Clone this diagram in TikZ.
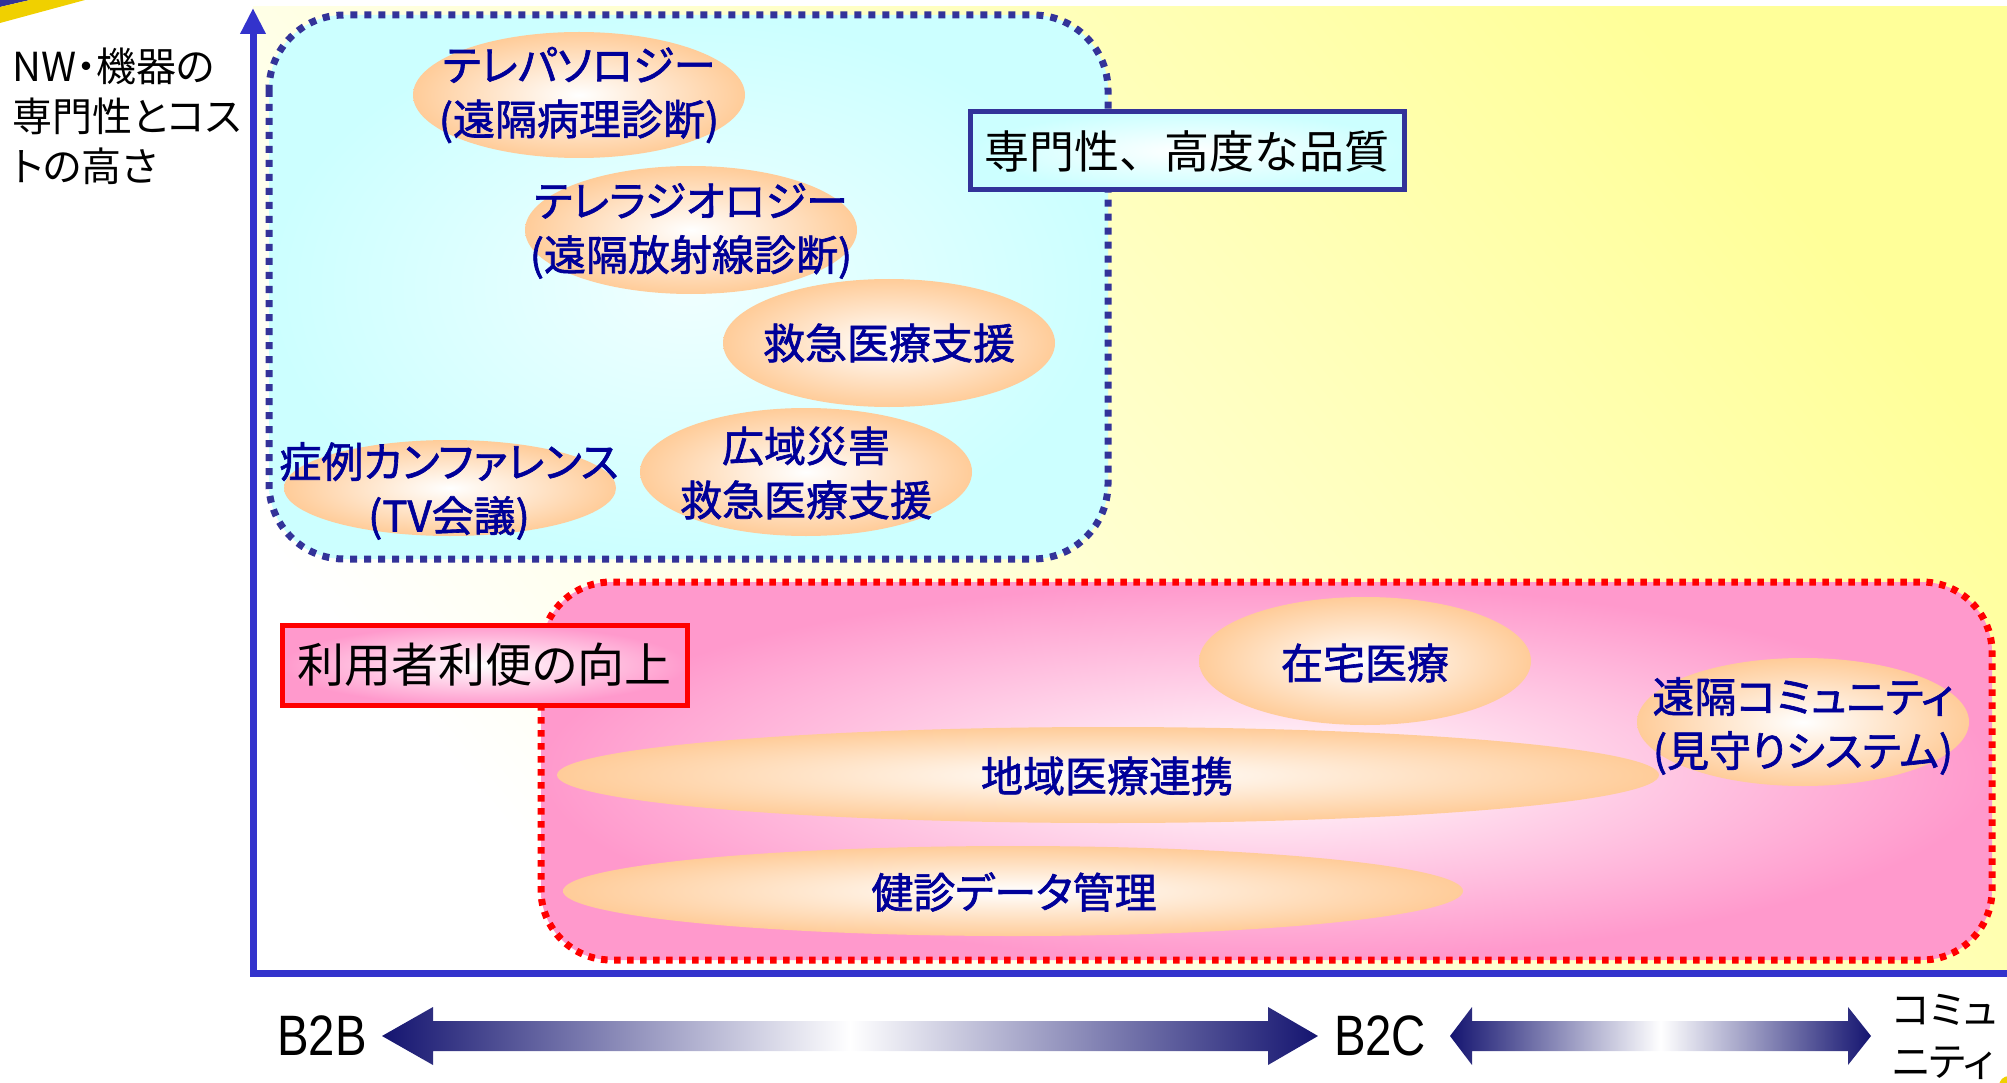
\documentclass[tikz,border=0pt]{standalone}
\usepackage{fontspec}
\setmainfont{Noto Sans CJK JP}[RawFeature=+palt]
\newfontfamily\jpblue{Noto Sans CJK JP}[RawFeature=+palt, FakeBold=1.5]
\newfontfamily\jpfull{Noto Sans CJK JP}
\newfontfamily\latnarrow{Liberation Sans}[FakeStretch=0.83]
\usetikzlibrary{arrows.meta}
\definecolor{axisblue}{RGB}{51,51,204}
\definecolor{boxnavy}{RGB}{51,51,153}
\definecolor{txtblue}{RGB}{0,0,153}
\definecolor{cyanbg}{RGB}{204,255,255}
\definecolor{cyanlt}{RGB}{240,255,255}
\definecolor{pinkbg}{RGB}{255,153,204}
\definecolor{orangebg}{RGB}{255,204,153}
\definecolor{ylw}{RGB}{255,255,153}
\definecolor{gold}{RGB}{240,208,0}
\definecolor{arrownavy}{RGB}{20,20,112}
\tikzset{
  ellbg/.style={inner color=white, outer color=orangebg},
  bluetxt/.style={text=txtblue, align=center, inner sep=0pt,
    font=\jpblue\fontsize{42pt}{54pt}\selectfont},
  blacktxt/.style={text=black, inner sep=0pt},
  arrowshade/.style={left color=arrownavy, right color=arrownavy, middle color=white},
  axisline/.style={axisblue, line width=7pt},
}
\begin{document}
\begin{tikzpicture}[x=1pt,y=-1pt]
\useasboundingbox (0,0) rectangle (2007,1083);
% background
\shade[top color=ylw, bottom color=white, shading angle=-50] (253,7) rectangle (2007,973);
% corner decorations
\fill[boxnavy] (0,0) -- (30,0) -- (0,7) -- cycle;
\fill[gold] (0,7) -- (30,0) -- (85,0) -- (0,23) -- cycle;
\fill[gold] (2009,1086) circle (10pt);
% regions
\path[draw=boxnavy, line width=7pt, dash pattern=on 7pt off 7pt, rounded corners=75pt,
  inner color=cyanlt, outer color=cyanbg] (269,15) rectangle (1108,559);
\path[draw=red, line width=7pt, dash pattern=on 6.5pt off 6.5pt, rounded corners=70pt,
  inner color=white, outer color=pinkbg] (541,582) rectangle (1992,960);
% ellipses
\shade[ellbg] (579,95) ellipse [x radius=166pt, y radius=63pt];
\shade[ellbg] (691,230) ellipse [x radius=166pt, y radius=64pt];
\shade[ellbg] (889,343) ellipse [x radius=166pt, y radius=64pt];
\shade[ellbg] (450,488) ellipse [x radius=166pt, y radius=48pt];
\shade[ellbg] (806,472) ellipse [x radius=166pt, y radius=64pt];
\shade[ellbg] (1365,661) ellipse [x radius=166pt, y radius=64pt];
\shade[ellbg] (1803,722) ellipse [x radius=166pt, y radius=64pt];
\shade[ellbg] (1108,775) ellipse [x radius=551pt, y radius=48pt];
\shade[ellbg] (1013,891) ellipse [x radius=450pt, y radius=45pt];
% ellipse texts
\node[bluetxt] (t1) at (579,95) {テレパソロジー\\(遠隔病理診断)};
\node[bluetxt] (t2) at (691,231) {テレラジオロジー\\(遠隔放射線診断)};
\node[bluetxt] (t3) at (889,343) {救急医療支援};
\node[bluetxt] (t4) at (449,491) {症例カンファレンス\\(TV会議)};
\node[bluetxt] (t5) at (806,473) {広域災害\\救急医療支援};
\node[bluetxt] (t6) at (1365,663) {在宅医療};
\node[bluetxt] (t7) at (1803,726) {遠隔コミュニティ\\(見守りシステム)};
\node[bluetxt] (t8) at (1107,776) {地域医療連携};
\node[bluetxt] (t9) at (1014,892) {健診データ管理};
% label boxes
\node[blacktxt, draw=boxnavy, line width=5pt, inner color=white, outer color=cyanbg,
  minimum width=434pt, minimum height=78pt, font=\jpfull\fontsize{45pt}{50pt}\selectfont]
  (qual) at (1187,151) {専門性、高度な品質};
\node[blacktxt, draw=red, line width=5pt, inner color=white, outer color=pinkbg,
  minimum width=405pt, minimum height=80pt, font=\fontsize{47pt}{50pt}\selectfont]
  (conv) at (484.5,665) {利用者利便の向上};
% axes
\coordinate (O) at (253,976.5);
\coordinate (ytop) at (253,8);
\coordinate (xo) at (253,973);
\coordinate (xend) at (2007,973);
\draw[axisline, -{Triangle[width=24pt,length=26pt]}] (O) -- (ytop);
\draw[axisline] (xo) -- (xend);
% axis label
\node[blacktxt, anchor=west, align=left, font=\fontsize{40pt}{50pt}\selectfont]
  (ylab) at (12,116) {NW・機器の\\専門性とコス\\トの高さ};
% bottom labels
\node[blacktxt, font=\latnarrow\fontsize{57pt}{60pt}\selectfont] (b2b) at (322,1036) {B2B};
\node[blacktxt, font=\latnarrow\fontsize{57pt}{60pt}\selectfont] (b2c) at (1380,1036) {B2C};
\node[blacktxt, anchor=west, align=left, font=\fontsize{40pt}{52pt}\selectfont]
  (comm) at (1892,1037) {コミュ\\ニティ};
% double arrows
\shade[arrowshade] (382,1036) -- (433,1007) -- (433,1021) -- (1268,1021) -- (1268,1007)
  -- (1318,1036) -- (1268,1065) -- (1268,1051) -- (433,1051) -- (433,1065) -- cycle;
\shade[arrowshade] (1450,1036) -- (1472,1007) -- (1472,1021) -- (1848,1021) -- (1848,1007)
  -- (1871,1036) -- (1848,1065) -- (1848,1051) -- (1472,1051) -- (1472,1065) -- cycle;
\end{tikzpicture}
\end{document}
